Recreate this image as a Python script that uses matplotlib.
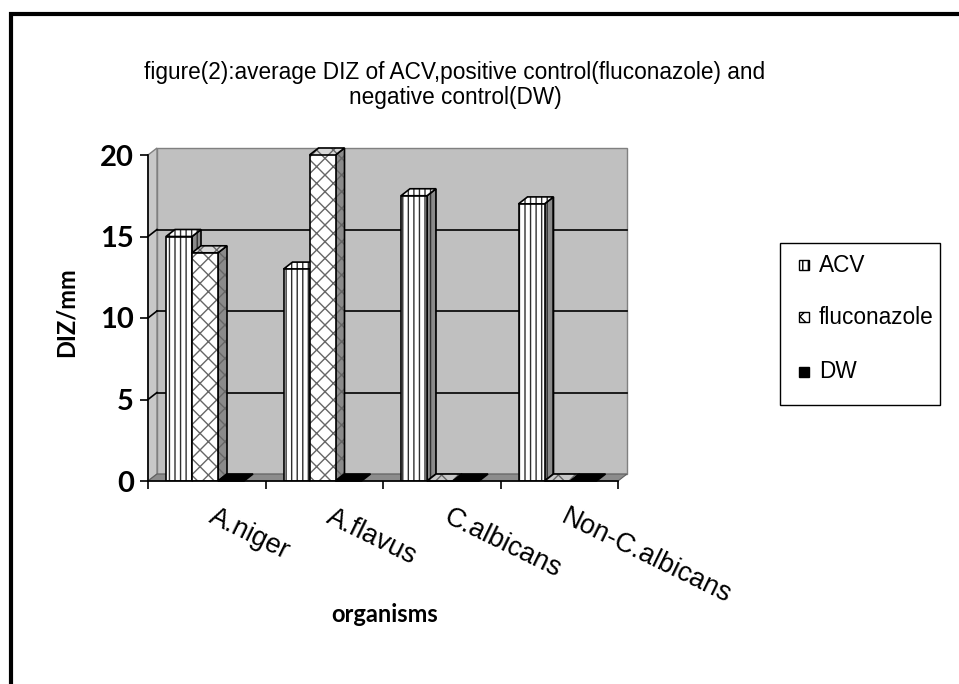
import numpy as np
import matplotlib.pyplot as plt
from matplotlib.patches import Polygon, Rectangle

# data
organisms = ['A.niger', 'A.flavus', 'C.albicans', 'Non-C.albicans']
acv = [15, 13, 17.5, 17]
fluconazole = [14, 20, 0, 0]
dw = [0, 0, 0, 0]
series_names = ['ACV', 'fluconazole', 'DW']
y_ticks = [0, 5, 10, 15, 20]

W, H = 959, 684
fig = plt.figure(figsize=(W / 100, H / 100), dpi=100)
ax = fig.add_axes([148 / W, 1 - 481 / H, 470 / W, 326 / H])
ax.set_xlim(0, 4)
ax.set_ylim(0, 20)
ax.set_facecolor('none')

# fake 3d depth (about 9px right, 7px up) in data units
dx = 9 / 117.5
dy = 7 / 16.3
ymax = 20

# back wall, left wall, floor
ax.add_patch(Polygon([(dx, dy), (4 + dx, dy), (4 + dx, ymax + dy), (dx, ymax + dy)],
                     closed=True, fc='#c0c0c0', ec='#808080', lw=1, zorder=0.5, clip_on=False))
ax.add_patch(Polygon([(0, 0), (dx, dy), (dx, ymax + dy), (0, ymax)],
                     closed=True, fc='#c8c8c8', ec='#808080', lw=1, zorder=0.5, clip_on=False))
for v in y_ticks[1:-1]:
    ax.plot([dx, 4 + dx], [v + dy, v + dy], color='black', lw=1.2, zorder=0.6, clip_on=False)
    ax.plot([0, dx], [v, v + dy], color='black', lw=1.2, zorder=0.6, clip_on=False)
ax.add_patch(Polygon([(0, 0), (4, 0), (4 + dx, dy), (dx, dy)],
                     closed=True, fc='#8c8c8c', ec='#606060', lw=0.8, zorder=0.7, clip_on=False))

styles = [
    dict(face='white', hatch='|||', hcol='#303030', side='#8a8a8a', top='white'),
    dict(face='white', hatch='xx', hcol='#666666', side='#8a8a8a', top='#d8d8d8'),
    dict(face='black', hatch=None, hcol='black', side='#202020', top='black'),
]

bar_w = 26 / 117.5
start = 18 / 117.5
series = [acv, fluconazole, dw]
z = 2
for i in range(len(organisms)):
    for j, vals in enumerate(series):
        st = styles[j]
        v = vals[i]
        x0 = i + start + j * bar_w
        x1 = x0 + bar_w
        # side face
        if v > 0:
            ax.add_patch(Polygon([(x1, 0), (x1 + dx, dy), (x1 + dx, v + dy), (x1, v)],
                                 closed=True, fc=st['side'], ec=st['hcol'], lw=0,
                                 hatch=st['hatch'], zorder=z, clip_on=False))
            ax.add_patch(Polygon([(x1, 0), (x1 + dx, dy), (x1 + dx, v + dy), (x1, v)],
                                 closed=True, fill=False, ec='black', lw=1.2, zorder=z, clip_on=False))
        # top face
        tc = st['top'] if v > 0 else ('#c8c8c8' if j == 1 else st['top'])
        ax.add_patch(Polygon([(x0, v), (x0 + dx, v + dy), (x1 + dx, v + dy), (x1, v)],
                             closed=True, fc=tc, ec=st['hcol'], lw=0,
                             hatch=st['hatch'], zorder=z, clip_on=False))
        ax.add_patch(Polygon([(x0, v), (x0 + dx, v + dy), (x1 + dx, v + dy), (x1, v)],
                             closed=True, fill=False, ec='black', lw=1.2, zorder=z, clip_on=False))
        # front face
        if v > 0:
            ax.bar(x0, v, width=bar_w, align='edge', color=st['face'], edgecolor=st['hcol'],
                   hatch=st['hatch'], lw=0, zorder=z + 0.1)
            ax.bar(x0, v, width=bar_w, align='edge', fill=False, edgecolor='black',
                   lw=1.2, zorder=z + 0.2)
        z += 0.5

# axes styling
for s in ['top', 'right']:
    ax.spines[s].set_visible(False)
ax.spines['left'].set_linewidth(1.2)
ax.spines['bottom'].set_linewidth(1.2)
ax.spines['left'].set_zorder(10)
ax.spines['bottom'].set_zorder(10)
ax.set_yticks(y_ticks)
ax.set_yticklabels([str(t) for t in y_ticks], fontfamily='Lato', fontweight='bold', fontsize=21)
ax.set_xticks(np.arange(len(organisms) + 1))
ax.set_xticklabels([])
ax.tick_params(axis='y', direction='out', length=6, width=1.2, pad=4)
ax.tick_params(axis='x', direction='out', length=6, width=1.2)

for i, name in enumerate(organisms):
    ax.text(i + 0.5 + 0.08, -23 / 326, name, transform=ax.get_xaxis_transform(),
            rotation=-26, rotation_mode='anchor', ha='left', va='top',
            fontfamily='Liberation Sans', fontsize=19.5)

fig.text(455 / W, 1 - 85 / H,
         'figure(2):average DIZ of ACV,positive control(fluconazole) and\nnegative control(DW)',
         ha='center', va='center', fontfamily='Liberation Sans', fontsize=16.3, linespacing=1.13)
fig.text(66 / W, 1 - 312 / H, 'DIZ/mm', rotation=90, ha='center', va='center',
         fontfamily='Lato', fontweight='bold', fontsize=17)
fig.text(385 / W, 1 - 614 / H, 'organisms', ha='center', va='center',
         fontfamily='Lato', fontweight='bold', fontsize=17)

# legend box
fig.add_artist(Rectangle((780 / W, 1 - 405 / H), 160 / W, 162 / H, transform=fig.transFigure,
                         fill=False, ec='black', lw=1))
leg_y = [265, 317, 372]
for j, name in enumerate(series_names):
    st = styles[j]
    fig.add_artist(Rectangle((799 / W, 1 - (leg_y[j] + 5) / H), 10 / W, 10 / H,
                             transform=fig.transFigure, fc=st['face'], ec='black', lw=1,
                             hatch=st['hatch']))
    fig.text(819 / W, 1 - leg_y[j] / H, name, ha='left', va='center',
             fontfamily='Liberation Sans', fontsize=16.3)

# outer frame
fig.add_artist(Rectangle((11 / W, -0.1), 2, 1.1 - 14 / H, transform=fig.transFigure,
                         fill=False, ec='black', lw=3))

fig.savefig('out.png', dpi=100)
